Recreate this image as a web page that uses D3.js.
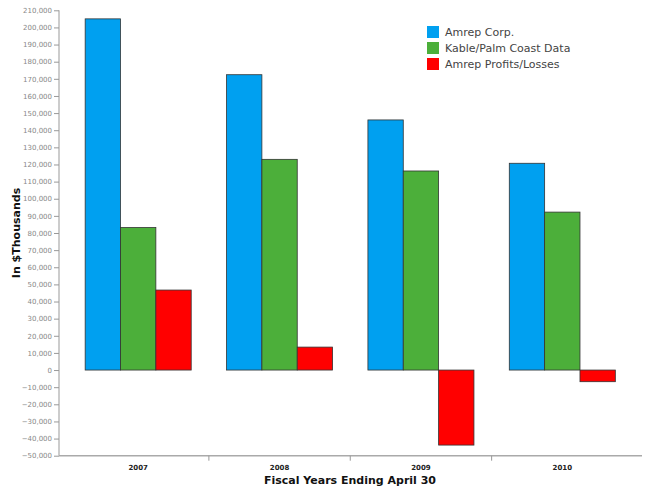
<!DOCTYPE html>
<html>
<head>
<meta charset="utf-8">
<title>Amrep Bar Chart</title>
<script src="https://cdn.jsdelivr.net/npm/d3@7/dist/d3.min.js"></script>
<style>
body { margin: 0; background: #fff; }
text { font-family: "DejaVu Sans", Verdana, sans-serif; }
.yaxis text { fill: #888; font-size: 7px; }
.xaxis text { fill: #222; font-size: 7px; font-weight: bold; }
</style>
</head>
<body>
<script>
var years = ["2007", "2008", "2009", "2010"];
var seriesNames = ["Amrep Corp.", "Kable/Palm Coast Data", "Amrep Profits/Losses"];
var seriesColors = ["#00a0f0", "#4caf3a", "#ff0000"];
var amrepCorp = [205000, 172400, 146000, 120700];
var kableData = [83200, 123000, 116200, 92200];
var amrepProfits = [46700, 13400, -43800, -6800];
var yTicks = d3.range(-50000, 210001, 10000);

var width = 650, height = 494;

var svg = d3.select("body").append("svg")
  .attr("width", width).attr("height", height)
  .style("background", "white");

var y = d3.scaleLinear().domain([-50000, 210000]).range([455.7, 10.3]);

var x0 = d3.scaleBand().domain(years).range([67.5, 633]).padding(0);
var x1 = d3.scaleBand().domain(seriesNames).range([0, x0.bandwidth()])
  .paddingInner(0).paddingOuter(0.5);

var rows = years.map(function(yr, i) {
  return { year: yr, values: [amrepCorp[i], kableData[i], amrepProfits[i]] };
});

// bars
var groups = svg.append("g").selectAll("g")
  .data(rows).enter().append("g")
  .attr("transform", function(d){ return "translate(" + x0(d.year) + ",0)"; });

groups.selectAll("rect")
  .data(function(d){ return d.values.map(function(v, j){ return { name: seriesNames[j], value: v, color: seriesColors[j] }; }); })
  .enter().append("rect")
  .attr("x", function(d){ return x1(d.name); })
  .attr("width", x1.bandwidth())
  .attr("y", function(d){ return y(Math.max(0, d.value)); })
  .attr("height", function(d){ return Math.abs(y(d.value) - y(0)); })
  .attr("fill", function(d){ return d.color; })
  .attr("stroke", "#333")
  .attr("stroke-width", 0.8);

// y axis
var yAxis = svg.append("g").attr("class", "yaxis")
  .attr("transform", "translate(59,0)")
  .call(d3.axisLeft(y).tickValues(yTicks).tickSize(5).tickPadding(2).tickFormat(d3.format(",")));
yAxis.select(".domain").attr("stroke", "#999").attr("d", "M0," + y(210000) + "V" + y(-50000));
yAxis.selectAll(".tick line").attr("stroke", "#999");

// x axis
var xAxis = svg.append("g").attr("class", "xaxis")
  .attr("transform", "translate(0," + y(-50000) + ")");
xAxis.append("line").attr("x1", 59).attr("x2", 642).attr("y1", 0).attr("y2", 0)
  .attr("stroke", "#aaa").attr("stroke-width", 1.5);
xAxis.selectAll(".sep").data(years.slice(1)).enter().append("line")
  .attr("class", "sep")
  .attr("x1", function(d){ return x0(d); }).attr("x2", function(d){ return x0(d); })
  .attr("y1", 0).attr("y2", 5).attr("stroke", "#999");
xAxis.selectAll(".lbl").data(years).enter().append("text")
  .attr("class", "lbl")
  .attr("x", function(d){ return x0(d) + x0.bandwidth() / 2; })
  .attr("y", 14)
  .attr("text-anchor", "middle")
  .text(function(d){ return d; });

// axis titles
svg.append("text")
  .attr("x", 350).attr("y", 484)
  .attr("text-anchor", "middle")
  .style("font-size", "11px").style("font-weight", "bold").attr("fill", "#111")
  .text("Fiscal Years Ending April 30");

svg.append("text")
  .attr("transform", "translate(20,233) rotate(-90)")
  .attr("text-anchor", "middle")
  .style("font-size", "11px").style("font-weight", "bold").attr("fill", "#111")
  .text("In $Thousands");

// legend
var legend = svg.append("g").attr("transform", "translate(427,26)");
var items = legend.selectAll("g").data(seriesNames).enter().append("g")
  .attr("transform", function(d, i){ return "translate(0," + i * 16 + ")"; });
items.append("rect").attr("width", 12).attr("height", 12)
  .attr("fill", function(d, i){ return seriesColors[i]; });
items.append("text").attr("x", 18).attr("y", 10)
  .style("font-size", "11px").attr("fill", "#444")
  .text(function(d){ return d; });
</script>
</body>
</html>
